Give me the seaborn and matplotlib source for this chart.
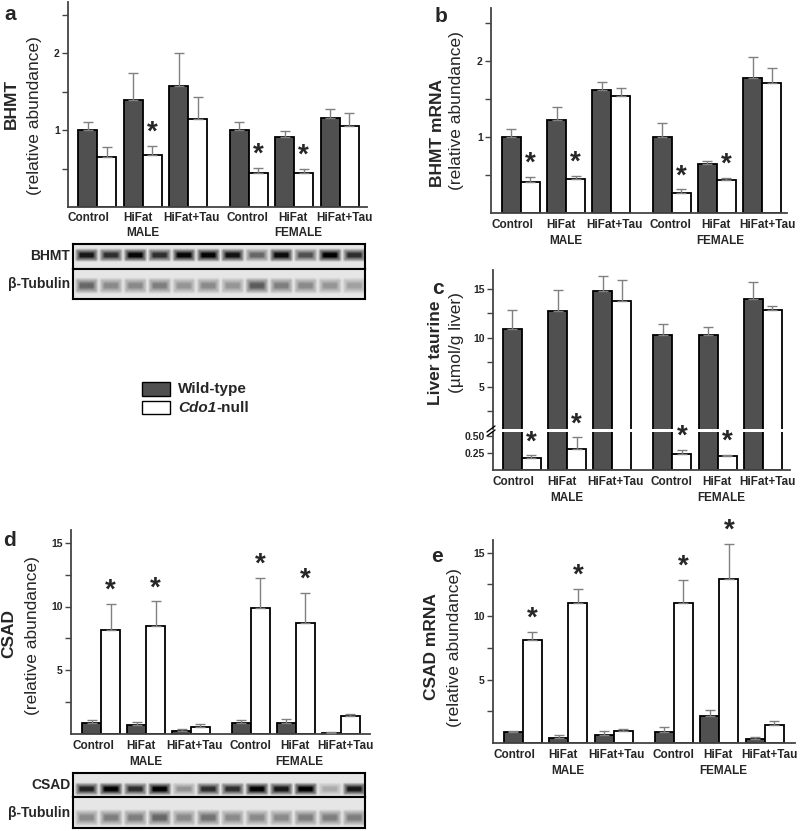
import numpy as np
import pandas as pd
import matplotlib
matplotlib.use("Agg")
import matplotlib.pyplot as plt
import seaborn as sns
from matplotlib.patches import Rectangle

sns.set_style("ticks")
plt.rcParams["font.family"] = ["Liberation Sans", "DejaVu Sans"]

W, H = 800, 831
DARK = "#505050"
ERR = "#808080"
SPINE = "#444444"

groups = ["Control", "HiFat", "HiFat+Tau", "Control", "HiFat", "HiFat+Tau"]
group_pos = [0, 1, 2, 3.33, 4.33, 5.33]
label_shift = [-0.18, -0.11, 0.07, -0.02, -0.02, 0.11]
genotypes = ["Wild-type", "Cdo1-null"]

# a: BHMT protein (relative abundance), mean and top of error bar
a_wt = [1.00, 1.39, 1.57, 1.00, 0.91, 1.16]
a_wt_top = [1.11, 1.75, 2.00, 1.11, 0.99, 1.27]
a_ko = [0.65, 0.68, 1.14, 0.44, 0.44, 1.05]
a_ko_top = [0.78, 0.80, 1.43, 0.51, 0.50, 1.22]
a_star = [0, 1, 0, 1, 1, 0]

# b: BHMT mRNA
b_wt = [1.00, 1.22, 1.62, 1.00, 0.64, 1.78]
b_wt_top = [1.11, 1.39, 1.73, 1.18, 0.68, 2.05]
b_ko = [0.41, 0.45, 1.54, 0.26, 0.43, 1.71]
b_ko_top = [0.47, 0.49, 1.65, 0.31, 0.46, 1.91]
b_star = [1, 1, 0, 1, 1, 0]

# c: liver taurine (umol/g liver)
c_wt = [10.92, 12.72, 14.83, 10.31, 10.31, 13.98]
c_wt_top = [12.90, 14.86, 16.36, 11.39, 11.09, 15.68]
c_ko = [0.18, 0.315, 13.81, 0.23, 0.20, 12.82]
c_ko_top = [0.215, 0.48, 15.88, 0.29, 0.225, 13.23]
c_star = [1, 1, 0, 1, 1, 0]

# d: CSAD protein
d_wt = [0.87, 0.68, 0.26, 0.87, 0.87, 0.10]
d_wt_top = [1.10, 0.92, 0.39, 1.10, 1.21, 0.18]
d_ko = [8.18, 8.47, 0.58, 9.92, 8.74, 1.42]
d_ko_top = [10.20, 10.40, 0.79, 12.26, 11.05, 1.58]
d_star = [1, 1, 0, 1, 1, 0]

# e: CSAD mRNA
e_wt = [0.87, 0.37, 0.61, 0.87, 2.09, 0.32]
e_wt_top = [0.93, 0.66, 0.93, 1.24, 2.62, 0.45]
e_ko = [8.12, 11.06, 0.98, 11.06, 12.94, 1.43]
e_ko_top = [8.73, 12.17, 1.11, 12.88, 15.69, 1.77]
e_star = [1, 1, 0, 1, 1, 0]

# western blot band strength per lane (WT, KO alternating, male then female)
bhmt_bands = [0.90, 0.80, 0.97, 0.80, 0.97, 0.98, 0.92, 0.55, 0.95, 0.65, 1.00, 0.80]
tub_a_bands = [0.55, 0.40, 0.40, 0.45, 0.35, 0.40, 0.35, 0.60, 0.45, 0.40, 0.35, 0.30]
csad_bands = [0.85, 1.00, 0.80, 1.00, 0.35, 0.80, 0.80, 1.00, 0.90, 1.00, 0.25, 0.90]
tub_d_bands = [0.40, 0.45, 0.45, 0.55, 0.40, 0.50, 0.40, 0.40, 0.40, 0.45, 0.45, 0.45]

fig = plt.figure(figsize=(W / 100, H / 100), dpi=100)


def px_axes(x0, y0, x1, y1):
    return fig.add_axes([x0 / W, 1 - y1 / H, (x1 - x0) / W, (y1 - y0) / H])


def draw_bars(ax, wt, wt_top, ko, ko_top, star=None):
    df = pd.DataFrame({
        "pos": group_pos * 2,
        "genotype": [genotypes[0]] * 6 + [genotypes[1]] * 6,
        "value": wt + ko,
    })
    sns.barplot(data=df, x="pos", y="value", hue="genotype", hue_order=genotypes,
                palette=[DARK, "white"], native_scale=True, width=0.84,
                errorbar=None, edgecolor="black", linewidth=1.3, legend=False, ax=ax)
    for cont, vals, tops in zip(ax.containers, [wt, ko], [wt_top, ko_top]):
        xs = [b.get_x() + b.get_width() / 2 for b in cont]
        ax.errorbar(xs, vals, yerr=[np.zeros(6), np.subtract(tops, vals)], fmt="none",
                    ecolor=ERR, elinewidth=1, capsize=3.5, capthick=1, zorder=3)
    if star is not None:
        xs = [b.get_x() + b.get_width() / 2 for b in ax.containers[1]]
        for x, t, s in zip(xs, ko_top, star):
            if s:
                ax.annotate("*", xy=(x, t), xytext=(0, 4.5), textcoords="offset points",
                            ha="center", va="baseline", fontsize=20, fontweight="bold",
                            annotation_clip=False)
    ax.set_xlabel("")
    ax.set_ylabel("")


def style(ax, xlim, ylim, major, minor, labels=None, bottom=True,
          tick_off=12, group_off=28):
    ax.set_xlim(*xlim)
    ax.set_ylim(*ylim)
    ax.set_facecolor("none")
    for s in ["top", "right"]:
        ax.spines[s].set_visible(False)
    ax.spines["left"].set_color(SPINE)
    ax.spines["left"].set_linewidth(1.3)
    ax.spines["bottom"].set_color(SPINE)
    ax.spines["bottom"].set_linewidth(1.3)
    ax.set_yticks(major)
    if labels is not None:
        ax.set_yticklabels(labels)
    ax.set_yticks(minor, minor=True)
    ax.tick_params(axis="y", which="both", length=4, width=1, color=SPINE, pad=2,
                   labelsize=7.5)
    for lbl in ax.get_yticklabels():
        lbl.set_fontweight("bold")
    if bottom:
        ax.set_xticks(np.add(group_pos, label_shift), groups)
        ax.tick_params(axis="x", length=0, pad=tick_off * 0.72, labelsize=8.5)
        for lbl in ax.get_xticklabels():
            lbl.set_fontweight("bold")
            lbl.set_va("center")
        for x, name in [(group_pos[1], "MALE"), (group_pos[4] + 0.08, "FEMALE")]:
            ax.annotate(name, xy=(x, 0), xycoords=("data", "axes fraction"),
                        xytext=(0, -group_off * 0.72), textcoords="offset points",
                        ha="center", va="center", fontsize=8.5, fontweight="bold")
    else:
        ax.spines["bottom"].set_visible(False)
        ax.set_xticks([])


# panel a
ax_a = px_axes(68, 2, 367, 207)
draw_bars(ax_a, a_wt, a_wt_top, a_ko, a_ko_top, a_star)
style(ax_a, (-0.64, 5.93), (0, 2.67), [1, 2], [0.5, 1.5, 2.5], tick_off=11, group_off=26)

# panel b
ax_b = px_axes(491, 8, 787, 213)
draw_bars(ax_b, b_wt, b_wt_top, b_ko, b_ko_top, b_star)
style(ax_b, (-0.66, 5.88), (0, 2.7), [1, 2], [0.5, 1.5, 2.5])

# panel c with broken axis
ax_ct = px_axes(493, 270, 790, 429)
draw_bars(ax_ct, c_wt, c_wt_top, c_ko, c_ko_top)
style(ax_ct, (-0.64, 5.93), (0.71, 16.94), [5, 10, 15], [2.5, 7.5, 12.5], bottom=False)
ax_cb = px_axes(493, 432, 790, 470)
draw_bars(ax_cb, c_wt, c_wt_top, c_ko, c_ko_top, c_star)
style(ax_cb, (-0.64, 5.93), (0, 0.56), [0.25, 0.5], [], labels=["0.25", "0.50"])

# panel d
ax_d = px_axes(71, 530, 370, 734)
draw_bars(ax_d, d_wt, d_wt_top, d_ko, d_ko_top, d_star)
style(ax_d, (-0.67, 5.98), (0, 16), [5, 10, 15], [2.5, 7.5, 12.5])

# panel e
ax_e = px_axes(493, 540, 795, 743)
draw_bars(ax_e, e_wt, e_wt_top, e_ko, e_ko_top, e_star)
style(ax_e, (-0.66, 6.0), (0, 16), [5, 10, 15], [2.5, 7.5, 12.5])


# western blots
BG = 0.9


def blot_image(levels, band_row):
    img = np.full((9, len(levels) * 8), BG)
    for i, lvl in enumerate(levels):
        c0 = 8 * i
        img[band_row - 1:band_row + 3, c0 + 1:c0 + 8] = BG - 0.5 * lvl * BG
        img[band_row:band_row + 2, c0 + 2:c0 + 7] = BG - lvl * BG
    return img


def draw_blot(x0, x1, rows):
    for (ya, yb), levels, band_row, name in rows:
        ax = px_axes(x0, ya, x1, yb)
        ax.imshow(blot_image(levels, band_row), cmap="gray", vmin=0, vmax=1,
                  aspect="auto", interpolation="bilinear")
        ax.set_xticks([])
        ax.set_yticks([])
        for s in ax.spines.values():
            s.set_visible(True)
            s.set_color("black")
            s.set_linewidth(1.5)
        ax.set_ylabel(name, rotation=0, ha="right", va="center", fontsize=10,
                      fontweight="bold", labelpad=2)


draw_blot(73, 365, [((244, 269), bhmt_bands, 3, "BHMT"),
                    ((269, 299), tub_a_bands, 4, "β-Tubulin")])
draw_blot(73, 365, [((773, 797), csad_bands, 5, "CSAD"),
                    ((797, 828), tub_d_bands, 5, "β-Tubulin")])

# overlay in pixel coordinates for labels, legend and axis break
ov = fig.add_axes([0, 0, 1, 1])
ov.set_xlim(0, W)
ov.set_ylim(H, 0)
ov.axis("off")
ov.set_facecolor("none")

for x, y, txt in [(10, 14, "a"), (441, 17, "b"), (438, 289, "c"), (10, 541, "d"), (437, 557, "e")]:
    ov.text(x, y, txt, ha="center", va="center", fontsize=15, fontweight="bold")

ylabels = [
    (11, 104, "BHMT", "bold"), (35, 116, "(relative abundance)", "normal"),
    (437, 133, "BHMT mRNA", "bold"), (457, 111, "(relative abundance)", "normal"),
    (436, 353, "Liver taurine", "bold"), (457, 343, "(µmol/g liver)", "normal"),
    (9, 633, "CSAD", "bold"), (33, 636, "(relative abundance)", "normal"),
    (431, 647, "CSAD mRNA", "bold"), (454, 648, "(relative abundance)", "normal"),
]
for x, y, txt, wgt in ylabels:
    ov.text(x, y, txt, rotation=90, ha="center", va="center", fontsize=12.5, fontweight=wgt)

# axis break marks on panel c
for dy in (0, 4):
    ov.plot([487, 495], [432 + dy, 426 + dy], color="black", lw=1)

# legend
ov.add_patch(Rectangle((142, 382), 28, 14, facecolor=DARK, edgecolor="black", lw=1))
ov.add_patch(Rectangle((142, 401), 28, 13, facecolor="white", edgecolor="black", lw=1))
ov.text(178, 389, "Wild-type", va="center", ha="left", fontsize=11, fontweight="bold")
t = ov.text(178, 408, "Cdo1", va="center", ha="left", fontsize=11, fontweight="bold",
            style="italic")
ov.annotate("-null", xy=(1, 0), xycoords=t, va="bottom", ha="left", fontsize=11,
            fontweight="bold")

plt.savefig("out.png", dpi=100)
